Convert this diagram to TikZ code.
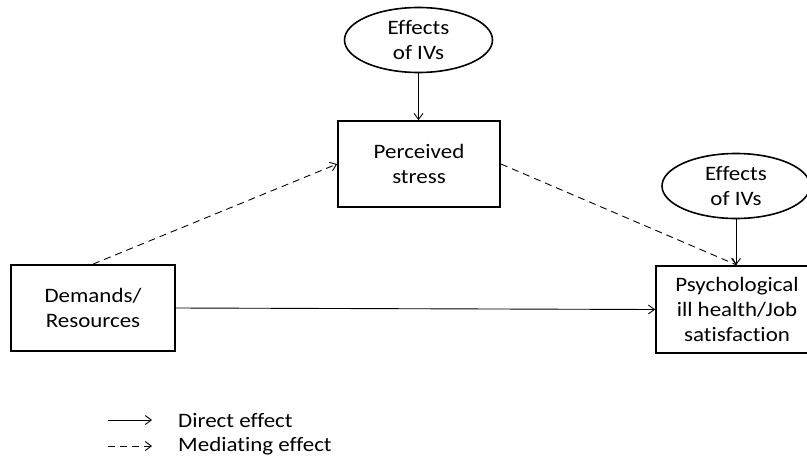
\documentclass[tikz,border=0pt]{standalone}
\usepackage{fontspec}
\setmainfont{Carlito}[FakeStretch=1.12,Ligatures={NoCommon}]
\usetikzlibrary{shapes.geometric,arrows.meta}
\begin{document}
\begin{tikzpicture}[x=1pt,y=-1pt,
  font=\fontsize{20.5}{25}\selectfont,
  boxnode/.style={draw,line width=1.8pt,rectangle,minimum width=162pt,minimum height=86pt,align=center,inner sep=0pt,fill=white},
  ellnode/.style={draw,line width=1.6pt,ellipse,minimum width=148pt,minimum height=65pt,align=center,inner sep=0pt,fill=white},
  conn/.style={line width=0.9pt,-{Straight Barb[length=6pt,width=9pt]}},
  dashconn/.style={conn,dash pattern=on 7pt off 5pt}]
\clip (0,0) rectangle (807,458);
\fill[white] (0,0) rectangle (807,458);
\node[ellnode] (e1) at (418.5,40) {Effects\\of IVs};
\node[boxnode] (ps) at (419,164) {Perceived\\stress};
\node[boxnode,minimum width=164pt] (dem) at (93,308) {Demands/\\Resources};
\node[boxnode,minimum height=87pt] (psy) at (737,309.5) {Psychological\\ill health/Job\\satisfaction};
\node[ellnode] (e2) at (736,186) {Effects\\of IVs};
\draw[conn] (e1.south) -- (e1.south |- ps.north);
\draw[conn] (e2.south) -- (e2.south |- psy.north);
\draw[dashconn] (dem.north) -- (ps.west);
\draw[dashconn] (ps.east) -- (psy.north);
\draw[conn] (dem.east) -- (psy.west);
\coordinate (l1a) at (108,420);
\coordinate (l1b) at (152,420);
\coordinate (l2a) at (108,446);
\coordinate (l2b) at (152,446);
\draw[conn] (l1a) -- (l1b);
\draw[dashconn] (l2a) -- (l2b);
\node[anchor=west,inner sep=0pt] (t1) at (178,421) {Direct effect};
\node[anchor=west,inner sep=0pt] (t2) at (178,446) {Mediating effect};
\end{tikzpicture}
\end{document}
